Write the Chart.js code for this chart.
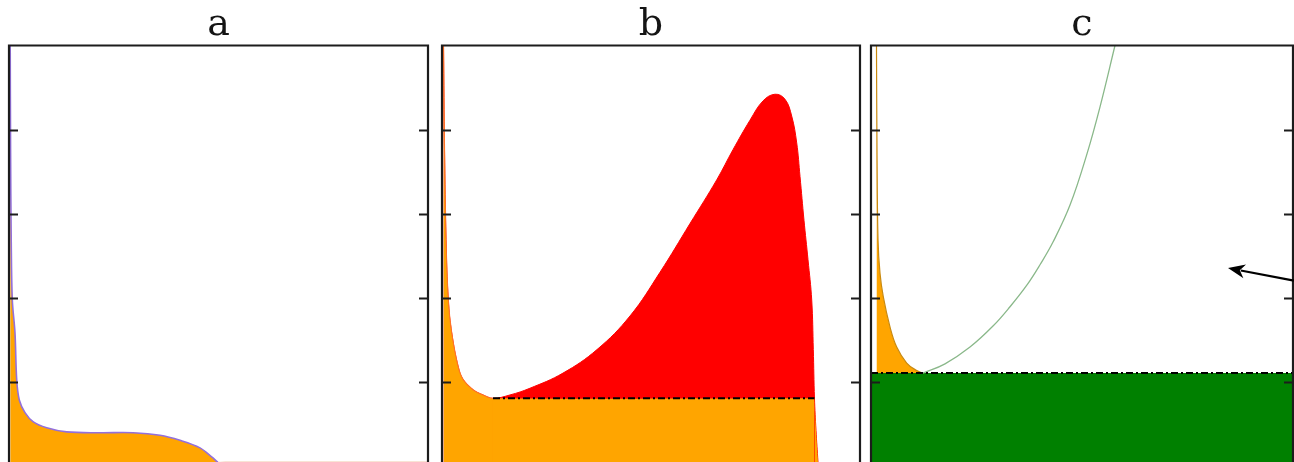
<!DOCTYPE html>
<html>
<head>
<meta charset="utf-8">
<script src="https://cdn.jsdelivr.net/npm/chart.js@4/dist/chart.umd.min.js"></script>
<style>
  html, body { margin: 0; padding: 0; background: #fff; overflow: hidden; }
  #wrap { position: relative; width: 1294px; height: 462px; overflow: hidden; }
  canvas { position: absolute; top: 0; }
</style>
</head>
<body>
<div id="wrap">
  <canvas id="pa" width="429" height="470" style="left:4px"></canvas>
  <canvas id="pb" width="428" height="470" style="left:437px"></canvas>
  <canvas id="pc" width="432" height="470" style="left:866px"></canvas>
</div>
<script>
// ---- shared axes ----
const xRange = [0, 10];
const yRange = [0, 5];
const yTickValues = [1, 2, 3, 4];
const panelTitles = ['a', 'b', 'c'];

// ---- panel a: single decaying curve ----
const aX = [0.029, 0.038, 0.053, 0.079, 0.143, 0.184, 0.246, 0.382, 0.580, 0.900, 1.377,
            2.172, 2.959, 3.604, 4.081, 4.558, 4.869, 4.988, 5.16, 10.0];
const aY = [5.00, 3.76, 2.69, 1.97, 1.58, 1.02, 0.78, 0.63, 0.52, 0.45, 0.40,
            0.39, 0.39, 0.36, 0.30, 0.21, 0.09, 0.04, 0.04, 0.04];

// ---- panel b: curve with a minimum, a peak and a cut-off ----
const bX = [0.036, 0.060, 0.096, 0.151, 0.232, 0.390, 0.510, 0.749, 0.981, 1.220,
            1.627, 2.105, 2.895, 3.708, 4.498, 5.215, 5.933, 6.572, 6.962, 7.368,
            7.679, 7.967, 8.206, 8.366, 8.486, 8.565, 8.660, 8.756, 8.845, 8.883, 8.911,
            8.947, 8.995, 9.000];
const bY = [5.00, 3.76, 2.69, 1.97, 1.58, 1.17, 1.02, 0.90, 0.84, 0.80,
            0.84, 0.92, 1.10, 1.38, 1.78, 2.30, 2.88, 3.40, 3.76, 4.11,
            4.34, 4.42, 4.36, 4.16, 3.84, 3.44, 2.92, 2.45, 1.97, 1.38, 0.80,
            0.42, 0.04, 0.00];
const bMinIndex = 9;       // point where the curve touches the level
const bCrossIndex = 30;    // point where the falling edge meets the level again
const bLevel = 0.80;

// ---- panel c: falling branch, rising branch and a level ----
const cLeftX = [0.130, 0.142, 0.166, 0.213, 0.291, 0.450, 0.609, 0.846, 1.083, 1.232];
const cLeftY = [5.00, 3.76, 2.69, 2.29, 2.01, 1.65, 1.41, 1.22, 1.13, 1.10];
const cRightX = [1.232, 1.754, 2.346, 2.891, 3.294, 3.697, 4.005, 4.313, 4.716, 5.118, 5.427, 5.782];
const cRightY = [1.10, 1.21, 1.41, 1.66, 1.89, 2.15, 2.39, 2.66, 3.10, 3.71, 4.27, 5.00];
const cLevel = 1.10;
const cArrowTail = [10.02, 2.20];
const cArrowHead = [8.46, 2.35];

const ORANGE = '#FFA500';
const RED = '#FF0000';
const GREEN = '#008000';
const DASHDOT = [7, 3, 2, 3];

const pts = (xs, ys) => xs.map((x, i) => ({ x, y: ys[i] }));

// frame with inward ticks on both sides
const framePlugin = {
  id: 'frame',
  afterDatasetsDraw(chart) {
    const { ctx, chartArea: a, scales: { y } } = chart;
    ctx.save();
    ctx.strokeStyle = '#1c1c1c';
    ctx.lineWidth = 2.2;
    ctx.beginPath();
    ctx.moveTo(a.left, a.bottom + 10);
    ctx.lineTo(a.left, a.top);
    ctx.lineTo(a.right, a.top);
    ctx.lineTo(a.right, a.bottom + 10);
    ctx.stroke();
    ctx.lineWidth = 2;
    ctx.beginPath();
    yTickValues.forEach(v => {
      const py = Math.round(y.getPixelForValue(v)) + 0.5;
      ctx.moveTo(a.left, py); ctx.lineTo(a.left + 9, py);
      ctx.moveTo(a.right, py); ctx.lineTo(a.right - 9, py);
    });
    ctx.stroke();
    ctx.restore();
  }
};

// arrow drawn in data coordinates of the panel
const arrowPlugin = {
  id: 'arrow',
  afterDatasetsDraw(chart, args, opts) {
    if (!opts || !opts.tail) return;
    const { ctx, scales: { x, y } } = chart;
    const x1 = x.getPixelForValue(opts.tail[0]), y1 = y.getPixelForValue(opts.tail[1]);
    const x2 = x.getPixelForValue(opts.head[0]), y2 = y.getPixelForValue(opts.head[1]);
    const ang = Math.atan2(y2 - y1, x2 - x1);
    const c = Math.cos(ang), s = Math.sin(ang);
    const len = 17, half = 7;
    ctx.save();
    ctx.strokeStyle = '#000';
    ctx.fillStyle = '#000';
    ctx.lineWidth = 2.2;
    ctx.beginPath();
    ctx.moveTo(x1, y1);
    ctx.lineTo(x2 - c * (len - 4), y2 - s * (len - 4));
    ctx.stroke();
    ctx.beginPath();
    ctx.moveTo(x2, y2);
    ctx.lineTo(x2 - c * len - s * half, y2 - s * len + c * half);
    ctx.lineTo(x2 - c * (len - 5), y2 - s * (len - 5));
    ctx.lineTo(x2 - c * len + s * half, y2 - s * len - c * half);
    ctx.closePath();
    ctx.fill();
    ctx.restore();
  }
};

function baseOptions(title, extra) {
  return {
    responsive: false,
    animation: false,
    events: [],
    layout: { padding: { left: 5, right: 5, top: 0, bottom: 4.5 } },
    elements: { point: { radius: 0 }, line: { tension: 0.4, cubicInterpolationMode: 'default' } },
    scales: {
      x: { type: 'linear', min: xRange[0], max: xRange[1], display: false },
      y: { type: 'linear', min: yRange[0], max: yRange[1], display: false }
    },
    plugins: Object.assign({
      legend: { display: false },
      tooltip: { enabled: false },
      title: {
        display: true, text: title, color: '#151515',
        font: { family: '"DejaVu Serif", "Liberation Serif", serif', size: 38, weight: 'normal', lineHeight: 1 },
        padding: { top: 6, bottom: 1.5 }
      }
    }, extra || {})
  };
}

// panel a
new Chart(document.getElementById('pa'), {
  type: 'line',
  data: {
    datasets: [{
      data: pts(aX, aY),
      borderColor: '#9370DB', borderWidth: 1.6, tension: 0.35,
      segment: {
        // the part lying on the floor is only a faint trace
        borderColor: ctx => (ctx.p0.parsed.y < 0.05 && ctx.p1.parsed.y < 0.05) ? '#f6dcc8' : undefined
      },
      backgroundColor: ORANGE, fill: 'origin'
    }]
  },
  options: baseOptions(panelTitles[0]),
  plugins: [framePlugin]
});

// panel b: orange = falling branch down to the level, the level itself, and the cut-off sliver
const bOrangeX = bX.slice(0, bMinIndex + 1).concat([bX[bCrossIndex]]);
const bOrangeY = bY.slice(0, bMinIndex + 1).concat([bLevel]);
new Chart(document.getElementById('pb'), {
  type: 'line',
  data: {
    datasets: [
      { order: 0, data: [{ x: bX[bMinIndex], y: bLevel }, { x: bX[bCrossIndex], y: bLevel }],
        borderColor: '#000', borderWidth: 2, borderDash: DASHDOT, fill: false, tension: 0 },
      { order: 1, data: pts(bOrangeX, bOrangeY),
        borderColor: 'rgba(255,120,40,0.9)', borderWidth: 1.2, tension: 0.3,
        segment: { borderColor: ctx => ctx.p0DataIndex >= bMinIndex ? 'rgba(0,0,0,0)' : undefined },
        backgroundColor: ORANGE, fill: 'origin' },
      { order: 1, data: pts(bX.slice(bCrossIndex), bY.slice(bCrossIndex)),
        borderWidth: 0, tension: 0.3,
        backgroundColor: ORANGE, fill: 'origin' },
      { order: 2, data: pts(bX, bY),
        borderColor: RED, borderWidth: 1, tension: 0.4,
        backgroundColor: RED, fill: 'origin' }
    ]
  },
  options: baseOptions(panelTitles[1]),
  plugins: [framePlugin]
});

// panel c
new Chart(document.getElementById('pc'), {
  type: 'line',
  data: {
    datasets: [
      { order: 0, data: [{ x: xRange[0], y: cLevel }, { x: xRange[1], y: cLevel }],
        borderColor: '#000', borderWidth: 2, borderDash: DASHDOT, fill: false, tension: 0 },
      { order: 1, data: pts(cRightX, cRightY),
        borderColor: '#8ab88a', borderWidth: 1.3, fill: false },
      { order: 2, data: [{ x: xRange[0], y: cLevel }, { x: xRange[1], y: cLevel }],
        borderWidth: 0, backgroundColor: GREEN, fill: 'origin', tension: 0 },
      { order: 3, data: pts(cLeftX, cLeftY),
        borderColor: '#c98a10', borderWidth: 1.2,
        backgroundColor: ORANGE, fill: 'origin' }
    ]
  },
  options: baseOptions(panelTitles[2], { arrow: { tail: cArrowTail, head: cArrowHead } }),
  plugins: [framePlugin, arrowPlugin]
});
</script>
</body>
</html>
